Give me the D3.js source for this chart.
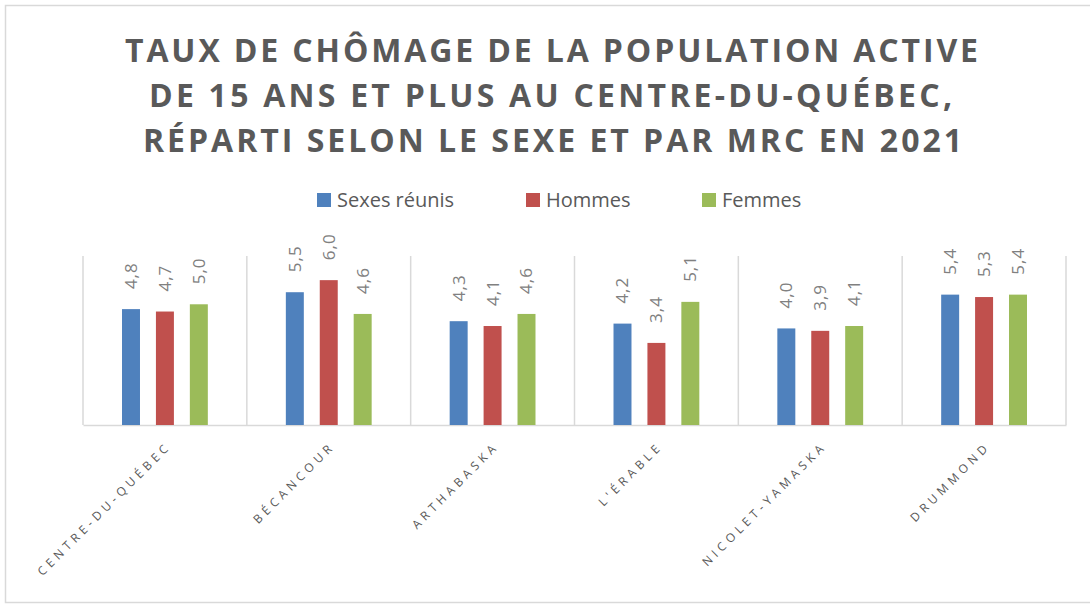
<!DOCTYPE html>
<html>
<head>
<meta charset="utf-8">
<script src="https://cdn.jsdelivr.net/npm/d3@7"></script>
<style>
  html, body { margin: 0; padding: 0; background: #fff; }
  svg { display: block; }
</style>
</head>
<body>
<div id="chart"></div>
<script>
var titleLines = [
  'TAUX DE CHÔMAGE DE LA POPULATION ACTIVE',
  'DE 15 ANS ET PLUS AU CENTRE-DU-QUÉBEC,',
  'RÉPARTI SELON LE SEXE ET PAR MRC EN 2021'
];
var categories = ['CENTRE-DU-QUÉBEC', 'BÉCANCOUR', 'ARTHABASKA', "L'ÉRABLE", 'NICOLET-YAMASKA', 'DRUMMOND'];
var seriesNames = ['Sexes réunis', 'Hommes', 'Femmes'];
var sexesReunis = [4.8, 5.5, 4.3, 4.2, 4.0, 5.4];
var hommes = [4.7, 6.0, 4.1, 3.4, 3.9, 5.3];
var femmes = [5.0, 4.6, 4.6, 5.1, 4.1, 5.4];
var colors = ['#4f81bd', '#c0504d', '#9bbb59'];

var width = 1090, height = 605;
var plotLeft = 83, plotRight = 1066, plotTop = 256, plotBottom = 425;

var seriesValues = [sexesReunis, hommes, femmes];
var dataSet = categories.map(function (c, i) {
  return {
    cat: c,
    child: seriesNames.map(function (s, j) {
      return { series: s, value: seriesValues[j][i], color: colors[j] };
    })
  };
});

var svg = d3.select('#chart')
  .append('svg')
  .attr('width', width)
  .attr('height', height);

// cadre
svg.append('rect')
  .attr('x', 5.5).attr('y', 5.5)
  .attr('width', width + 20).attr('height', 597)
  .attr('fill', '#fff')
  .attr('stroke', '#d9d9d9')
  .attr('stroke-width', 1.5);

// titre
var titleBox = [[125, 978], [149, 952], [143, 962]];
svg.append('g')
  .selectAll('text')
  .data(titleLines)
  .enter()
  .append('text')
  .attr('x', function (d, i) { return titleBox[i][0]; })
  .attr('y', function (d, i) { return 62 + i * 45; })
  .attr('textLength', function (d, i) { return titleBox[i][1] - titleBox[i][0]; })
  .attr('lengthAdjust', 'spacing')
  .attr('font-family', 'Open Sans, sans-serif')
  .attr('font-weight', 700)
  .attr('font-size', 32)
  .attr('fill', '#595959')
  .text(function (d) { return d; });

// légende
var legendX = [317, 526, 702];
var legend = svg.append('g')
  .selectAll('g')
  .data(seriesNames)
  .enter()
  .append('g')
  .attr('transform', function (d, i) { return 'translate(' + legendX[i] + ',193)'; });
legend.append('rect')
  .attr('width', 14).attr('height', 14)
  .attr('fill', function (d, i) { return colors[i]; });
legend.append('text')
  .attr('x', 20).attr('y', 14)
  .attr('font-family', 'Open Sans, sans-serif')
  .attr('font-size', 20)
  .attr('fill', '#595959')
  .text(function (d) { return d; });

// échelles
var x0 = d3.scaleBand()
  .domain(categories)
  .range([plotLeft, plotRight]);
var x1 = d3.scaleBand()
  .domain(seriesNames)
  .range([0, x0.bandwidth()])
  .paddingInner(0.47)
  .paddingOuter(1.15);
var y = d3.scaleLinear()
  .domain([0, 7])
  .range([plotBottom, plotTop]);

// séparateurs verticaux
svg.append('g')
  .selectAll('line')
  .data(categories.concat(['end']))
  .enter()
  .append('line')
  .attr('x1', function (d, i) { return i < categories.length ? x0(d) : plotRight; })
  .attr('x2', function (d, i) { return i < categories.length ? x0(d) : plotRight; })
  .attr('y1', plotTop)
  .attr('y2', plotBottom)
  .attr('stroke', '#d9d9d9')
  .attr('stroke-width', 1.5);

// axe X
var xAxis = svg.append('g')
  .attr('transform', 'translate(0,' + plotBottom + ')')
  .call(d3.axisBottom(x0).tickSize(0).tickFormat(''));
xAxis.select('.domain').attr('stroke', '#d9d9d9').attr('stroke-width', 1.5);

xAxis.selectAll('.tick')
  .append('text')
  .attr('transform', 'translate(7,22) rotate(-45)')
  .attr('text-anchor', 'end')
  .attr('font-family', 'Open Sans, sans-serif')
  .attr('font-size', 12)
  .attr('letter-spacing', 4.2)
  .attr('fill', '#595959')
  .text(function (d) { return d; });

// barres
var groups = svg.append('g')
  .selectAll('.rectWrapper')
  .data(dataSet)
  .enter()
  .append('g')
  .attr('class', 'rectWrapper')
  .attr('transform', function (d) { return 'translate(' + x0(d.cat) + ',0)'; });

groups.selectAll('rect')
  .data(function (d) { return d.child; })
  .enter()
  .append('rect')
  .attr('x', function (d) { return x1(d.series); })
  .attr('y', function (d) { return y(d.value); })
  .attr('width', x1.bandwidth())
  .attr('height', function (d) { return plotBottom - y(d.value); })
  .attr('fill', function (d) { return d.color; });

groups.selectAll('text')
  .data(function (d) { return d.child; })
  .enter()
  .append('text')
  .attr('transform', function (d) {
    return 'translate(' + (x1(d.series) + x1.bandwidth() / 2) + ',' + (y(d.value) - 20) + ') rotate(-90)';
  })
  .attr('dy', '0.35em')
  .attr('font-family', 'Open Sans, sans-serif')
  .attr('font-size', 17)
  .attr('letter-spacing', 1)
  .attr('fill', '#808080')
  .text(function (d) { return d3.format('.1f')(d.value).replace('.', ','); });
</script>
</body>
</html>
